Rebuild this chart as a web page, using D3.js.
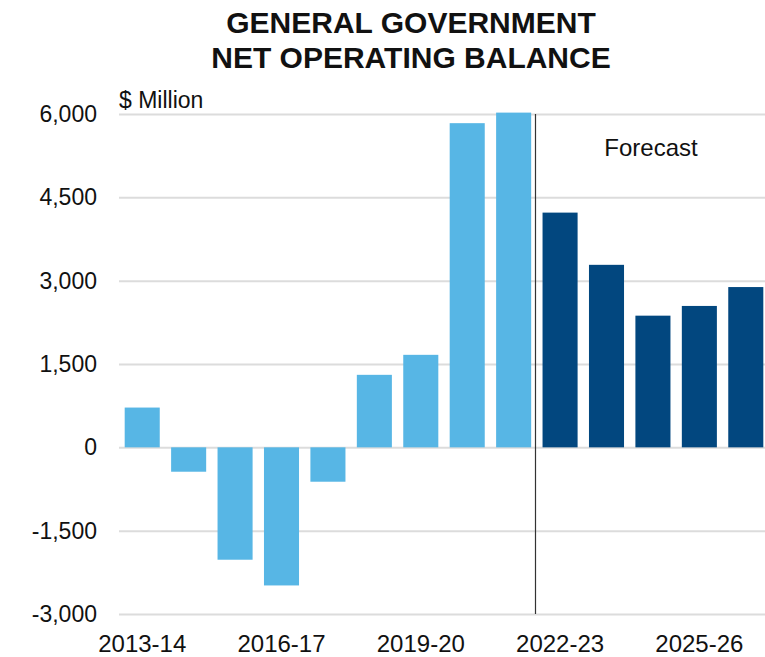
<!DOCTYPE html>
<html>
<head>
<meta charset="utf-8">
<script src="https://cdn.jsdelivr.net/npm/d3@7"></script>
<style>
  html, body { margin: 0; padding: 0; background: #fff; }
  svg { display: block; }
  text { font-family: "Liberation Sans", Arial, sans-serif; fill: #111; }
</style>
</head>
<body>
<svg id="chart" width="765" height="657"></svg>
<script>
// Financial years shown on the category axis
const years = ["2013-14","2014-15","2015-16","2016-17","2017-18","2018-19","2019-20",
               "2020-21","2021-22","2022-23","2023-24","2024-25","2025-26","2026-27"];
// Net operating balance, $ million
const balance = [716, -439, -2023, -2486, -619, 1305, 1665, 5835, 6025, 4225, 3285, 2370, 2545, 2885];
// Which years are budget forecasts
const isForecast = [false,false,false,false,false,false,false,false,false,true,true,true,true,true];
// Axis ticks
const yTicks = [-3000, -1500, 0, 1500, 3000, 4500, 6000];
const xTickLabels = ["2013-14","2016-17","2019-20","2022-23","2025-26"];

const titleLines = ["GENERAL GOVERNMENT", "NET OPERATING BALANCE"];

const svg = d3.select("#chart");
const W = 765, H = 657;
const margin = { left: 119, right: -4, top: 114, bottom: 43 };

const x = d3.scaleBand()
  .domain(years)
  .range([margin.left, W - margin.right])
  .paddingInner(0.245)
  .paddingOuter(0.1225);

const y = d3.scaleLinear()
  .domain([-3000, 6000])
  .range([H - margin.bottom, margin.top]);

// Thousands separator with a plain hyphen for negatives
const comma = d3.format(",");
const fmt = v => comma(v).replace("\u2212", "-");

// Title
svg.append("g").selectAll("text")
  .data(titleLines)
  .join("text")
  .attr("x", 411)
  .attr("y", (d, i) => 33 + i * 35)
  .attr("text-anchor", "middle")
  .attr("font-size", 30)
  .attr("font-weight", "bold")
  .text(d => d);

// Horizontal gridlines
const yAxis = d3.axisLeft(y)
  .tickValues(yTicks)
  .tickFormat(fmt)
  .tickSize(-(W - margin.left))
  .tickPadding(22);

const gy = svg.append("g")
  .attr("transform", `translate(${margin.left},0)`)
  .call(yAxis);
gy.select(".domain").remove();
gy.selectAll(".tick line").attr("stroke", "#dcdcdc").attr("stroke-width", 2);
gy.selectAll(".tick text")
  .attr("font-size", 23)
  .attr("fill", "#111")
  .attr("font-family", "\"Liberation Sans\", Arial, sans-serif");

// Bars
svg.append("g").selectAll("rect")
  .data(years.map((yr, i) => ({ yr, v: balance[i], f: isForecast[i] })))
  .join("rect")
  .attr("x", d => x(d.yr))
  .attr("width", x.bandwidth())
  .attr("y", d => y(Math.max(0, d.v)))
  .attr("height", d => Math.abs(y(d.v) - y(0)))
  .attr("fill", d => d.f ? "#02477f" : "#57b6e5");

// Divider between actuals and forecasts
const firstForecast = years[isForecast.indexOf(true)];
const divX = Math.round(x(firstForecast) - x.step() * x.paddingInner() / 2) - 1.5;
svg.append("line")
  .attr("x1", divX).attr("x2", divX)
  .attr("y1", y(6000)).attr("y2", y(-3000))
  .attr("stroke", "#333")
  .attr("stroke-width", 1.2);

// Category labels
const xAxis = d3.axisBottom(x)
  .tickValues(xTickLabels)
  .tickSize(0)
  .tickPadding(0);
const gx = svg.append("g")
  .attr("transform", `translate(0,${y(-3000)})`)
  .call(xAxis);
gx.select(".domain").remove();
gx.selectAll(".tick text")
  .attr("font-size", 24)
  .attr("fill", "#111")
  .attr("dy", 0)
  .attr("y", 38)
  .attr("font-family", "\"Liberation Sans\", Arial, sans-serif");

// Unit label
svg.append("text")
  .attr("x", margin.left)
  .attr("y", 108)
  .attr("font-size", 23)
  .text("$ Million");

// Forecast annotation
svg.append("text")
  .attr("x", 651)
  .attr("y", 156)
  .attr("text-anchor", "middle")
  .attr("font-size", 24)
  .text("Forecast");
</script>
</body>
</html>
